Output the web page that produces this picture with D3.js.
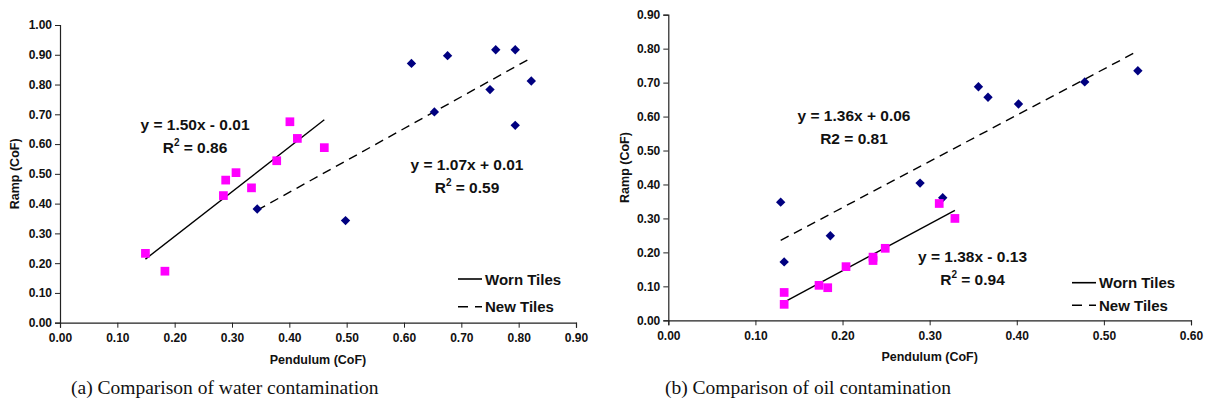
<!DOCTYPE html>
<html>
<head>
<meta charset="utf-8">
<script src="https://cdn.jsdelivr.net/npm/d3@7"></script>
<style>
  body { margin: 0; background: #fff; }
  svg { display: block; }
  .tick text { font-family: "Liberation Sans", Arial, sans-serif; font-weight: bold; font-size: 12px; fill: #111; }
  .ttl { font-family: "Liberation Sans", Arial, sans-serif; font-weight: bold; font-size: 12.5px; fill: #111; }
  .eq { font-family: "Liberation Sans", Arial, sans-serif; font-weight: bold; font-size: 15.5px; fill: #111; }
  .leg { font-family: "Liberation Sans", Arial, sans-serif; font-weight: bold; font-size: 15px; fill: #111; }
  .cap { font-family: "Liberation Serif", "Times New Roman", serif; font-size: 19.5px; fill: #111; }
</style>
</head>
<body>
<svg id="chart" width="1208" height="405"></svg>
<script>
// (a) water contamination
const waterWornX = [0.149, 0.183, 0.285, 0.289, 0.307, 0.334, 0.378, 0.401, 0.414, 0.461];
const waterWornY = [0.233, 0.173, 0.427, 0.479, 0.504, 0.453, 0.544, 0.675, 0.619, 0.588];
const waterNewX = [0.344, 0.498, 0.613, 0.653, 0.676, 0.750, 0.760, 0.794, 0.794, 0.822];
const waterNewY = [0.382, 0.343, 0.871, 0.708, 0.897, 0.783, 0.917, 0.917, 0.663, 0.812];
const waterWornFit = [1.50, -0.01];
const waterNewFit = [1.07, 0.01];

// (b) oil contamination
const oilWornX = [0.133, 0.133, 0.173, 0.183, 0.204, 0.235, 0.235, 0.249, 0.311, 0.329];
const oilWornY = [0.082, 0.047, 0.103, 0.096, 0.158, 0.176, 0.186, 0.212, 0.344, 0.300];
const oilNewX = [0.129, 0.133, 0.186, 0.289, 0.315, 0.356, 0.367, 0.402, 0.478, 0.539];
const oilNewY = [0.348, 0.172, 0.249, 0.404, 0.361, 0.688, 0.657, 0.637, 0.702, 0.735];
const oilWornFit = [1.38, -0.13];
const oilNewFit = [1.36, 0.06];

const waterXTicks = d3.range(0, 0.901, 0.1);
const waterYTicks = d3.range(0, 1.001, 0.1);
const oilXTicks = d3.range(0, 0.601, 0.1);
const oilYTicks = d3.range(0, 0.901, 0.1);

const legendLabels = ['Worn Tiles', 'New Tiles'];
const xTitle = 'Pendulum (CoF)';
const yTitle = 'Ramp (CoF)';

const svg = d3.select('#chart');
const fmt = d3.format('.2f');
const dash = '9,6';

function drawPanel(p) {
    const g = svg.append('g');
    const x = d3.scaleLinear().domain(p.xDomain).range(p.xRange);
    const y = d3.scaleLinear().domain(p.yDomain).range(p.yRange);

    g.append('g')
        .attr('transform', `translate(0,${p.yRange[0]})`)
        .call(d3.axisBottom(x).tickValues(p.xTicks).tickFormat(fmt).tickSize(5).tickPadding(6))
        .call(a => a.selectAll('line,path').attr('stroke', '#222'));
    g.append('g')
        .attr('transform', `translate(${p.xRange[0]},0)`)
        .call(d3.axisLeft(y).tickValues(p.yTicks).tickFormat(fmt).tickSize(5).tickPadding(3))
        .call(a => a.selectAll('line,path').attr('stroke', '#222'));

    g.selectAll('.domain').attr('stroke-width', 1.2);

    // trend lines, from the lowest to the highest x of each series
    const fitLine = (xs, fit, dashed) => {
        const x0 = d3.min(xs), x1 = d3.max(xs);
        g.append('line')
            .attr('x1', x(x0)).attr('y1', y(fit[0] * x0 + fit[1]))
            .attr('x2', x(x1)).attr('y2', y(fit[0] * x1 + fit[1]))
            .attr('stroke', '#000').attr('stroke-width', 1.4)
            .attr('stroke-dasharray', dashed ? dash : null);
    };
    fitLine(p.wornX, p.wornFit, false);
    fitLine(p.newX, p.newFit, true);

    // markers
    const sq = d3.symbol(d3.symbolSquare, 76);
    const dia = d3.symbol(d3.symbolSquare, 44);
    g.append('g').selectAll('path')
        .data(p.newX.map((v, i) => [v, p.newY[i]]))
        .join('path')
        .attr('d', dia)
        .attr('transform', d => `translate(${x(d[0])},${y(d[1])}) rotate(45)`)
        .attr('fill', '#000080');
    g.append('g').selectAll('path')
        .data(p.wornX.map((v, i) => [v, p.wornY[i]]))
        .join('path')
        .attr('d', sq)
        .attr('transform', d => `translate(${x(d[0])},${y(d[1])})`)
        .attr('fill', '#ff00ff');

    // equations
    p.eqs.forEach(e => {
        g.append('text').attr('class', 'eq').attr('text-anchor', 'middle')
            .attr('x', e.x).attr('y', e.y).text(e.line1);
        const t2 = g.append('text').attr('class', 'eq').attr('text-anchor', 'middle')
            .attr('x', e.x).attr('y', e.y + 22.5);
        if (e.sup) {
            t2.append('tspan').text('R');
            t2.append('tspan').attr('font-size', '10px').attr('dy', -7).text('2');
            t2.append('tspan').attr('dy', 7).text(' = ' + e.r2);
        } else {
            t2.text('R2 = ' + e.r2);
        }
    });

    // legend
    legendLabels.forEach((lab, i) => {
        const ly = p.legY + i * p.legGap;
        g.append('line')
            .attr('x1', p.legX).attr('x2', p.legX + 24)
            .attr('y1', ly).attr('y2', ly)
            .attr('stroke', '#000').attr('stroke-width', 1.6)
            .attr('stroke-dasharray', i ? '10,7' : null);
        g.append('text').attr('class', 'leg')
            .attr('x', p.legX + 27).attr('y', ly + 5.5).text(lab);
    });

    // titles
    g.append('text').attr('class', 'ttl').attr('text-anchor', 'middle')
        .attr('x', (p.xRange[0] + p.xRange[1]) / 2).attr('y', p.yRange[0] + 41).text(xTitle);
    g.append('text').attr('class', 'ttl').attr('text-anchor', 'middle')
        .attr('transform', `translate(${p.yTitleX},${(p.yRange[0] + p.yRange[1]) / 2}) rotate(-90)`)
        .text(yTitle);
    g.append('text').attr('class', 'cap').attr('x', p.capX).attr('y', 394).text(p.caption);
}

drawPanel({
    xDomain: [0, 0.9], xRange: [60, 576],
    yDomain: [0, 1.0], yRange: [322.7, 25],
    xTicks: waterXTicks, yTicks: waterYTicks,
    wornX: waterWornX, wornY: waterWornY, newX: waterNewX, newY: waterNewY,
    wornFit: waterWornFit, newFit: waterNewFit,
    eqs: [
        { x: 195, y: 130, line1: 'y = 1.50x - 0.01', r2: '0.86', sup: true },
        { x: 467, y: 170, line1: 'y = 1.07x + 0.01', r2: '0.59', sup: true }
    ],
    legX: 458, legY: 279, legGap: 27.7,
    yTitleX: 19,
    capX: 71, caption: '(a) Comparison of water contamination'
});

drawPanel({
    xDomain: [0, 0.6], xRange: [668.3, 1191],
    yDomain: [0, 0.9], yRange: [320.3, 14.7],
    xTicks: oilXTicks, yTicks: oilYTicks,
    wornX: oilWornX, wornY: oilWornY, newX: oilNewX, newY: oilNewY,
    wornFit: oilWornFit, newFit: oilNewFit,
    eqs: [
        { x: 854, y: 121, line1: 'y = 1.36x + 0.06', r2: '0.81', sup: false },
        { x: 972.5, y: 262, line1: 'y = 1.38x - 0.13', r2: '0.94', sup: true }
    ],
    legX: 1072, legY: 282.7, legGap: 22.6,
    yTitleX: 629,
    capX: 665, caption: '(b) Comparison of oil contamination'
});
</script>
</body>
</html>
